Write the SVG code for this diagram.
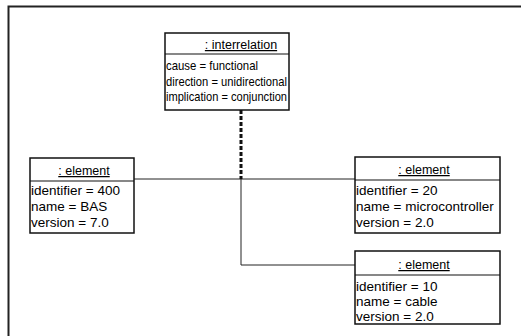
<svg xmlns="http://www.w3.org/2000/svg" width="521" height="336" viewBox="0 0 521 336">
<style>
.box{fill:#fff;stroke:#111;stroke-width:1.5}
.sep{stroke:#111;stroke-width:1.2}
.t{font-family:"Liberation Sans",Arial,sans-serif;font-size:13.5px;fill:#000}
.s{font-size:13px}
.h{text-anchor:middle;text-decoration:underline;font-size:12.5px}
.conn{fill:none;stroke:#222;stroke-width:1}
.dash{fill:none;stroke:#111;stroke-width:3;stroke-dasharray:4 2}
</style>
<rect width="521" height="336" fill="#fff"/>
<path d="M8.5 340 V6.5 H525" fill="none" stroke="#222" stroke-width="2"/>
<g id="connectors">
<path class="conn" d="M134 179 H355"/>
<path class="conn" d="M241 179 V265 H355"/>
<path class="dash" d="M241 110 V179"/>
</g>
<g id="interrelation">
<rect class="box" x="165" y="33" width="124" height="77"/>
<line class="sep" x1="165" y1="54" x2="289" y2="54"/>
<text class="t h" x="241" y="49">: interrelation</text>
<text class="t s" x="166" y="70" textLength="92" lengthAdjust="spacingAndGlyphs">cause = functional</text>
<text class="t s" x="166" y="86" textLength="121" lengthAdjust="spacingAndGlyphs">direction = unidirectional</text>
<text class="t s" x="166" y="101" textLength="121" lengthAdjust="spacingAndGlyphs">implication = conjunction</text>
</g>
<g id="element-bas">
<rect class="box" x="30" y="158" width="104" height="75"/>
<line class="sep" x1="30" y1="181" x2="134" y2="181"/>
<text class="t h" x="84" y="175">: element</text>
<text class="t" x="31" y="195">identifier = 400</text>
<text class="t" x="31" y="211">name = BAS</text>
<text class="t" x="31" y="227">version = 7.0</text>
</g>
<g id="element-microcontroller">
<rect class="box" x="355" y="157" width="145" height="76"/>
<line class="sep" x1="355" y1="180" x2="500" y2="180"/>
<text class="t h" x="424" y="174">: element</text>
<text class="t" x="356" y="195">identifier = 20</text>
<text class="t" x="356" y="211">name = microcontroller</text>
<text class="t" x="356" y="227">version = 2.0</text>
</g>
<g id="element-cable">
<rect class="box" x="355" y="251" width="145" height="73"/>
<line class="sep" x1="355" y1="275" x2="500" y2="275"/>
<text class="t h" x="424" y="269">: element</text>
<text class="t" x="356" y="291">identifier = 10</text>
<text class="t" x="356" y="306">name = cable</text>
<text class="t" x="356" y="321">version = 2.0</text>
</g>
</svg>
